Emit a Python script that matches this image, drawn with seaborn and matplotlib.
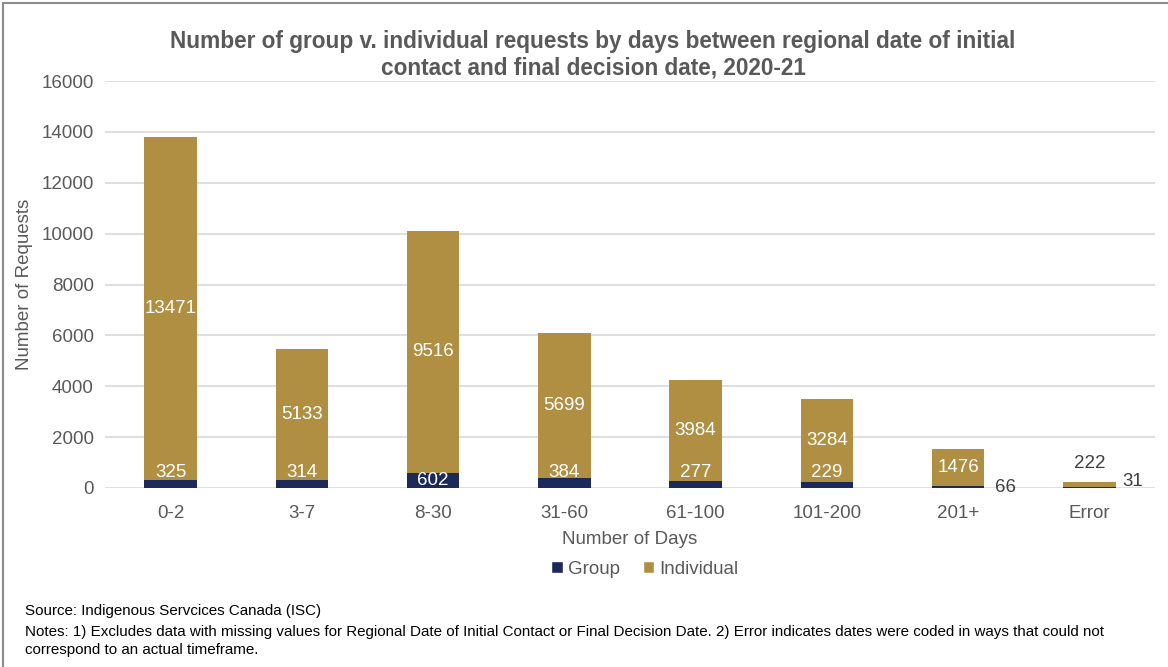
import seaborn as sns
import matplotlib.pyplot as plt
import pandas as pd
from matplotlib.patches import Patch, Rectangle

# data
days = ['0-2', '3-7', '8-30', '31-60', '61-100', '101-200', '201+', 'Error']
group = [325, 314, 602, 384, 277, 229, 66, 31]
individual = [13471, 5133, 9516, 5699, 3984, 3284, 1476, 222]

NAVY = '#1C2A5A'
GOLD = '#B08F42'
GRAY = '#595959'

df = pd.DataFrame({'days': days, 'group': group, 'individual': individual})
df['total'] = df['group'] + df['individual']

sns.set_style('white')
plt.rcParams['font.family'] = ['Liberation Sans', 'DejaVu Sans']

fig = plt.figure(figsize=(11.68, 6.67), dpi=100)
ax = fig.add_axes([105 / 1168, 1 - 488 / 667, 1050 / 1168, 407 / 667])

# stacked bars: totals in gold, group drawn over the base in navy
sns.barplot(data=df, x='days', y='total', color=GOLD, saturation=1, width=0.4, ax=ax, zorder=2,
            linewidth=0)
sns.barplot(data=df, x='days', y='group', color=NAVY, saturation=1, width=0.4, ax=ax, zorder=3,
            linewidth=0)

ax.set_ylim(0, 16000)
ax.set_xlim(-0.5, len(days) - 0.5)
ax.set_yticks(range(0, 16001, 2000))
ax.yaxis.grid(True, color='#D9D9D9', linewidth=1.2, zorder=0)
ax.set_axisbelow(True)
for s in ['top', 'right', 'left', 'bottom']:
    ax.spines[s].set_visible(False)
ax.tick_params(axis='y', length=0, labelsize=13.5, labelcolor=GRAY, pad=8)
ax.tick_params(axis='x', length=0, labelsize=13.5, labelcolor=GRAY, pad=12)
ax.set_xlabel('Number of Days', fontsize=13.5, color=GRAY, labelpad=7)
ax.set_ylabel('Number of Requests', fontsize=13.5, color=GRAY, labelpad=6)

# data labels
for i, row in df.iterrows():
    g, ind, tot = row['group'], row['individual'], row['total']
    if row['days'] == '201+':
        ax.text(i, g + ind / 2, f'{ind}', ha='center', va='center', color='white', fontsize=13.5, zorder=4)
        ax.text(i + 0.28, 0, f'{g}', ha='left', va='center', color='#404040', fontsize=13.5, zorder=4)
    elif row['days'] == 'Error':
        ax.text(i, tot + 700, f'{ind}', ha='center', va='center', color='#404040', fontsize=13.5, zorder=4)
        ax.text(i + 0.25, tot + 20, f'{g}', ha='left', va='center', color='#404040', fontsize=13.5, zorder=4)
    else:
        ax.text(i, g + ind / 2, f'{ind}', ha='center', va='center', color='white', fontsize=13.5, zorder=4)
        gy = g / 2 if g >= 500 else 620
        ax.text(i, gy, f'{g}', ha='center', va='center', color='white', fontsize=13.5, zorder=4)

handles = [Patch(facecolor=NAVY, label='Group'), Patch(facecolor=GOLD, label='Individual')]
fig.legend(handles=handles, loc='center', bbox_to_anchor=(645 / 1168, 1 - 569 / 667), ncol=2,
           frameon=False, fontsize=13.5, labelcolor=GRAY, handlelength=0.6, handleheight=0.6,
           handletextpad=0.3, columnspacing=1.2)

fig.text(593 / 1168, 1 - 55 / 667,
         'Number of group v. individual requests by days between regional date of initial\n'
         'contact and final decision date, 2020-21',
         ha='center', va='center', fontsize=16.3, fontweight='bold', color=GRAY, linespacing=1.2)

fig.text(25 / 1168, 1 - 611 / 667, 'Source: Indigenous Servcices Canada (ISC)',
         ha='left', va='center', fontsize=10.9, color='black')
fig.text(25 / 1168, 1 - 641 / 667,
         'Notes: 1) Excludes data with missing values for Regional Date of Initial Contact or Final Decision Date. '
         '2) Error indicates dates were coded in ways that could not\ncorrespond to an actual timeframe.',
         ha='left', va='center', fontsize=10.9, color='black', linespacing=1.3)

# chart frame (cropped on right and bottom)
fig.patches.append(Rectangle((3 / 1168, -0.1), 1.2, 1 - 3 / 667 + 0.1, transform=fig.transFigure,
                             fill=False, edgecolor='#8C8C8C', linewidth=1.5))

fig.savefig('out.png', dpi=100)
